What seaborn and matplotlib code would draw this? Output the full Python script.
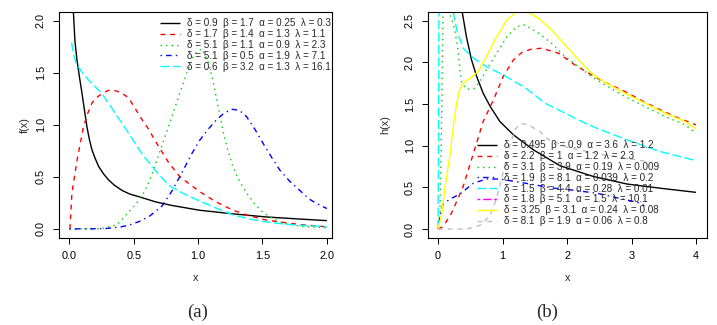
import matplotlib
matplotlib.use("Agg")
import matplotlib.pyplot as plt
import seaborn as sns
import pandas as pd
from matplotlib.lines import Line2D

# ---------------- data: panel (a) pdf curves ----------------
a_labels = [
    "δ = 0.9  β = 1.7  α = 0.25  λ = 0.3",
    "δ = 1.7  β = 1.4  α = 1.3  λ = 1.1",
    "δ = 5.1  β = 1.1  α = 0.9  λ = 2.3",
    "δ = 5.1  β = 0.5  α = 1.9  λ = 7.1",
    "δ = 0.6  β = 3.2  α = 1.3  λ = 16.1",
]
a1_x = [0.025, 0.031, 0.044, 0.06, 0.08, 0.099, 0.12, 0.137, 0.156, 0.176, 0.20, 0.228, 0.265, 0.306, 0.35, 0.41,
        0.47, 0.54, 0.67, 0.80, 1.01, 1.27, 1.53, 1.79, 2.0]
a1_y = [2.40, 2.10, 1.80, 1.62, 1.45, 1.30, 1.12, 0.98, 0.86, 0.76, 0.68, 0.60, 0.53, 0.47, 0.42, 0.37,
        0.335, 0.31, 0.26, 0.225, 0.18, 0.145, 0.115, 0.095, 0.08]
a2_x = [0.005, 0.02, 0.06, 0.11, 0.14, 0.176, 0.21, 0.254, 0.30, 0.34, 0.40, 0.46, 0.51, 0.565, 0.62, 0.67, 0.77,
        0.86, 1.01, 1.14, 1.27, 1.40, 1.53, 1.79, 2.0]
a2_y = [0.0, 0.34, 0.66, 0.98, 1.10, 1.21, 1.26, 1.30, 1.33, 1.335, 1.31, 1.26, 1.16, 1.05, 0.95, 0.84, 0.64,
        0.50, 0.36, 0.26, 0.18, 0.125, 0.085, 0.042, 0.02]
a3_x = [0.0, 0.24, 0.37, 0.46, 0.53, 0.59, 0.64, 0.69, 0.73, 0.77, 0.81, 0.86, 0.91, 0.97, 1.03, 1.08, 1.12, 1.16,
        1.196, 1.23, 1.27, 1.32, 1.38, 1.44, 1.51, 1.58, 1.66, 1.80, 2.0]
a3_y = [0.0, 0.0, 0.04, 0.16, 0.26, 0.37, 0.52, 0.70, 0.84, 0.98, 1.13, 1.31, 1.49, 1.68, 1.73, 1.60, 1.40, 1.15,
        0.93, 0.76, 0.60, 0.46, 0.34, 0.24, 0.15, 0.10, 0.055, 0.025, 0.01]
a4_x = [0.0, 0.2, 0.29, 0.40, 0.46, 0.54, 0.62, 0.72, 0.80, 0.885, 0.95, 1.014, 1.08, 1.144, 1.20, 1.26, 1.32,
        1.376, 1.44, 1.506, 1.57, 1.635, 1.71, 1.79, 1.86, 1.92, 2.0]
a4_y = [0.0, 0.002, 0.005, 0.02, 0.035, 0.07, 0.12, 0.22, 0.37, 0.565, 0.72, 0.854, 0.96, 1.05, 1.11, 1.15, 1.14,
        1.08, 0.96, 0.82, 0.69, 0.565, 0.46, 0.37, 0.29, 0.244, 0.196]
a5_x = [0.018, 0.03, 0.05, 0.09, 0.15, 0.254, 0.357, 0.46, 0.565, 0.67, 0.77, 0.885, 1.01, 1.14, 1.27, 1.40, 1.53,
        1.66, 1.79, 2.0]
a5_y = [1.79, 1.70, 1.60, 1.52, 1.43, 1.30, 1.11, 0.92, 0.72, 0.56, 0.42, 0.34, 0.27, 0.20, 0.135, 0.095, 0.067,
        0.048, 0.035, 0.022]

# ---------------- data: panel (b) hazard curves ----------------
b_labels = [
    "δ = 0.495  β = 0.9  α = 3.6  λ = 1.2",
    "δ = 2.2  β = 1  α = 1.2  λ = 2.3",
    "δ = 3.1  β = 3.9  α = 0.19  λ = 0.009",
    "δ = 1.9  β = 8.1  α = 0.039  λ = 0.2",
    "δ = 1.5  β = 4.4  α = 0.28  λ = 0.01",
    "δ = 1.8  β = 5.1  α = 1.5  λ = 10.1",
    "δ = 3.25  β = 3.1  α = 0.24  λ = 0.08",
    "δ = 8.1  β = 1.9  α = 0.06  λ = 0.8",
]
b1_x = [0.30, 0.37, 0.44, 0.52, 0.60, 0.70, 0.81, 0.96, 1.17, 1.48, 1.89, 2.41, 2.93, 3.44, 4.0]
b1_y = [3.00, 2.63, 2.31, 2.03, 1.83, 1.63, 1.47, 1.29, 1.13, 0.95, 0.76, 0.63, 0.54, 0.49, 0.44]
b2_x = [0.0, 0.08, 0.21, 0.39, 0.55, 0.70, 0.86, 1.01, 1.17, 1.30, 1.45, 1.61, 1.87, 2.12, 2.38, 2.59, 2.90, 3.16,
        3.42, 3.67, 4.0]
b2_y = [0.0, 0.03, 0.19, 0.51, 0.91, 1.29, 1.55, 1.83, 2.03, 2.12, 2.16, 2.17, 2.11, 1.97, 1.85, 1.76, 1.65, 1.54,
        1.44, 1.35, 1.25]
b3_x = [0.0, 0.03, 0.05, 0.078, 0.12, 0.17, 0.22, 0.26, 0.31, 0.34, 0.37, 0.44, 0.55, 0.65, 0.75, 0.91, 1.07, 1.22,
        1.35, 1.56, 1.76, 1.97, 2.18, 2.38, 2.59, 2.90, 3.21, 3.52, 3.83, 4.0]
b3_y = [0.0, 0.2, 1.0, 2.6, 3.1, 2.62, 2.50, 2.39, 2.15, 1.91, 1.75, 1.68, 1.68, 1.77, 1.91, 2.11, 2.31, 2.43,
        2.45, 2.35, 2.23, 2.07, 1.95, 1.83, 1.73, 1.59, 1.47, 1.35, 1.25, 1.15]
b4_x = [0.0, 0.03, 0.08, 0.19, 0.34, 0.55, 0.75, 0.95, 1.2, 1.5, 1.8, 2.05, 2.46, 2.8, 3.09, 3.2]
b4_y = [0.0, 0.15, 0.30, 0.36, 0.42, 0.55, 0.60, 0.60, 0.57, 0.53, 0.49, 0.47, 0.43, 0.37, 0.32, 0.28]
b5_x = [0.0, 0.008, 0.015, 0.03, 0.1, 0.2, 0.23, 0.29, 0.39, 0.55, 0.75, 1.01, 1.32, 1.43, 1.66, 1.97, 2.28, 2.46,
        2.93, 3.44, 4.0]
b5_y = [0.0, 1.0, 2.6, 4.0, 4.5, 3.0, 2.63, 2.39, 2.17, 2.05, 1.95, 1.85, 1.71, 1.65, 1.51, 1.39, 1.27, 1.21,
        1.07, 0.93, 0.82]
b6_x = []   # magenta curve: not visible inside the plotting window
b6_y = []
b7_x = [0.0, 0.06, 0.11, 0.19, 0.24, 0.29, 0.33, 0.37, 0.44, 0.50, 0.62, 0.75, 0.91, 1.07, 1.22, 1.30, 1.38, 1.56,
        1.76, 1.97, 2.18, 2.38, 2.59, 2.90, 3.21, 3.52, 3.83, 4.0]
b7_y = [0.0, 0.19, 0.51, 0.91, 1.25, 1.51, 1.66, 1.73, 1.78, 1.81, 1.89, 2.07, 2.31, 2.51, 2.61, 2.63, 2.61, 2.53,
        2.39, 2.21, 2.03, 1.87, 1.76, 1.63, 1.51, 1.39, 1.29, 1.20]
b8_x = [0.0, 0.45, 0.65, 0.8, 0.9, 1.0, 1.1, 1.2, 1.28, 1.4, 1.58, 1.7, 2.0, 2.5, 3.0, 3.3]
b8_y = [0.0, 0.0, 0.045, 0.15, 0.35, 0.65, 0.98, 1.20, 1.27, 1.25, 1.17, 1.08, 0.98, 0.90, 0.84, 0.80]

# ---------------- styles ----------------
a_colors = ["black", "#FF0000", "#00CD00", "#0000FF", "#00FFFF"]
b_colors = ["black", "#FF0000", "#00CD00", "#0000FF", "#00FFFF", "#FF00FF", "#FFFF00", "#BEBEBE"]
SOLID = (0, ())
DASH = (0, (3.5, 3.5))
DOT = (0, (1, 3))
DOTDASH = (0, (1, 3, 4, 3))
LONGDASH = (0, (6.5, 2.5))
TWODASH = (0, (2, 2, 6, 2))
a_styles = [SOLID, DASH, DOT, DOTDASH, LONGDASH]
b_styles = [SOLID, DASH, DOT, DOTDASH, LONGDASH, TWODASH, SOLID, DASH]

sns.set_style("ticks")
plt.rcParams['font.family'] = ['Liberation Sans', 'DejaVu Sans']
plt.rcParams['axes.edgecolor'] = 'black'
plt.rcParams['axes.linewidth'] = 0.8

W, H = 717, 325
fig = plt.figure(figsize=(W / 100, H / 100), dpi=100)
axA = fig.add_axes([59 / W, 1 - 238 / H, 273 / W, 226 / H])
axB = fig.add_axes([428 / W, 1 - 238 / H, 279 / W, 226 / H])

LW = 1.0


def draw(ax, xs, ys, color, style):
    if len(xs) == 0:
        return Line2D([], [], color=color, linestyle=style, lw=LW)
    df = pd.DataFrame({"x": xs, "y": ys})
    sns.lineplot(data=df, x="x", y="y", ax=ax, color=color, lw=LW,
                 sort=False, estimator=None, legend=False)
    ln = ax.lines[-1]
    ln.set_linestyle(style)
    ln.set_solid_joinstyle("round")
    ln.set_dash_joinstyle("round")
    return Line2D([], [], color=color, linestyle=style, lw=LW)


a_series = [(a1_x, a1_y), (a2_x, a2_y), (a3_x, a3_y), (a4_x, a4_y), (a5_x, a5_y)]
b_series = [(b1_x, b1_y), (b2_x, b2_y), (b3_x, b3_y), (b4_x, b4_y), (b5_x, b5_y),
            (b6_x, b6_y), (b7_x, b7_y), (b8_x, b8_y)]

a_handles = [draw(axA, x, y, c, s) for (x, y), c, s in zip(a_series, a_colors, a_styles)]
b_handles = [draw(axB, x, y, c, s) for (x, y), c, s in zip(b_series, b_colors, b_styles)]

TICK_FS = 7.8
for ax in (axA, axB):
    for sp in ax.spines.values():
        sp.set_visible(True)
        sp.set_color("black")
        sp.set_linewidth(0.8)
    ax.tick_params(direction="out", length=4, width=0.7, pad=5.5, labelsize=TICK_FS, colors="black")

axA.set_xlim(-0.08, 2.04)
axA.set_ylim(-0.087, 2.084)
axA.set_xticks([0, 0.5, 1.0, 1.5, 2.0])
axA.set_xticklabels(["0.0", "0.5", "1.0", "1.5", "2.0"])
axA.set_yticks([0, 0.5, 1.0, 1.5, 2.0])
axA.set_yticklabels(["0.0", "0.5", "1.0", "1.5", "2.0"], rotation=90, va="center")

axB.set_xlim(-0.155, 4.17)
axB.set_ylim(-0.108, 2.605)
axB.set_xticks([0, 1, 2, 3, 4])
axB.set_xticklabels(["0", "1", "2", "3", "4"])
axB.set_yticks([0, 0.5, 1.0, 1.5, 2.0, 2.5])
axB.set_yticklabels(["0.0", "0.5", "1.0", "1.5", "2.0", "2.5"], rotation=90, va="center")

axA.set_xlabel("x", fontsize=TICK_FS, va="center")
axA.set_ylabel("f(x)", fontsize=TICK_FS, va="center")
axB.set_xlabel("x", fontsize=TICK_FS, va="center")
axB.set_ylabel("h(x)", fontsize=TICK_FS, va="center")
axA.xaxis.set_label_coords(0.5, -40 / 226)
axB.xaxis.set_label_coords(0.5, -40 / 226)
axA.yaxis.set_label_coords(-34 / 273, 0.5)
axB.yaxis.set_label_coords(-43 / 279, 0.5)

LEG_FS = 7.1
legA = fig.legend(a_handles, a_labels, loc="upper left",
                  bbox_to_anchor=(160 / W, 1 - 18.5 / H), bbox_transform=fig.transFigure,
                  frameon=False, fontsize=LEG_FS, borderpad=0, borderaxespad=0,
                  handlelength=2.05, handletextpad=0.72, labelspacing=0.08)
legB = fig.legend(b_handles, b_labels, loc="upper left",
                  bbox_to_anchor=(476.5 / W, 1 - 140.5 / H), bbox_transform=fig.transFigure,
                  frameon=False, fontsize=LEG_FS, borderpad=0, borderaxespad=0,
                  handlelength=2.05, handletextpad=0.72, labelspacing=0.08)

fig.text(198 / W, 1 - 312 / H, "(a)", ha="center", va="center", fontsize=13.5, family="Liberation Serif")
fig.text(547 / W, 1 - 312 / H, "(b)", ha="center", va="center", fontsize=13.5, family="Liberation Serif")

fig.savefig("out.png", dpi=100)
